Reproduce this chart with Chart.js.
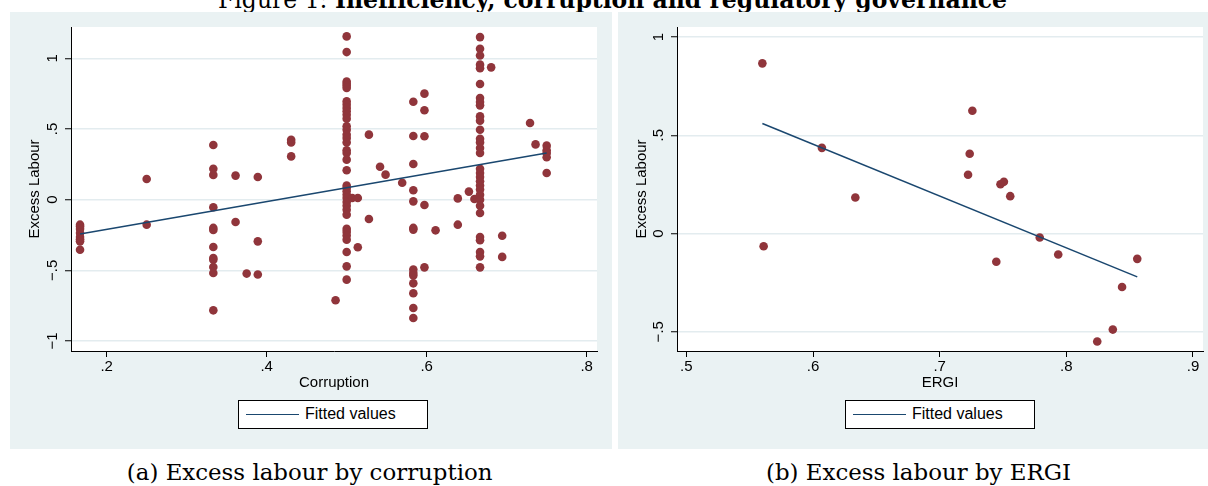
<!DOCTYPE html>
<html>
<head>
<meta charset="utf-8">
<title>Figure 1</title>
<script src="https://cdn.jsdelivr.net/npm/chart.js@4.4.1/dist/chart.umd.min.js"></script>
<style>
body { margin:0; width:1208px; height:486px; background:#fff; position:relative; overflow:hidden; }
.panel { position:absolute; top:12px; height:437px; background:#eaf2f3; }
#pa { left:10px; width:602px; }
#pb { left:618px; width:590px; }
.panel canvas { position:absolute; left:0; top:0; }
.legend { position:absolute; top:388px; width:188px; height:27px; border:1px solid #000; background:#fff; font:16px "Liberation Sans", Arial, sans-serif; color:#000; }
.legend .key { position:absolute; left:7px; top:13px; width:53px; border-top:1.5px solid #1a476f; }
.legend .lt { position:absolute; left:66px; top:4px; white-space:nowrap; }
.tex { position:absolute; left:0; top:0; white-space:nowrap; font-family:"DejaVu Serif", serif; font-size:20px; color:#000; line-height:1.2; }
.bl { display:inline-block; width:0; height:0; }
</style>
</head>
<body>

<div class="tex" id="fig">Figure 1: <b>Inefficiency, corruption and regulatory governance</b><i class="bl"></i></div>

<div class="panel" id="pa">
  <canvas id="chartA" width="602" height="437"></canvas>
  <div class="legend" style="left:228px"><span class="key"></span><span class="lt">Fitted values</span></div>
</div>
<div class="panel" id="pb">
  <canvas id="chartB" width="590" height="437"></canvas>
  <div class="legend" style="left:227px"><span class="key"></span><span class="lt">Fitted values</span></div>
</div>

<div class="tex" id="capA">(a) Excess labour by corruption<i class="bl"></i></div>
<div class="tex" id="capB">(b) Excess labour by ERGI<i class="bl"></i></div>

<script>
// (a) corruption levels and the excess labour values seen at each level
const corruption = [0.1667, 0.25, 0.3333, 0.3611, 0.375, 0.3889, 0.4306, 0.4861, 0.5, 0.5069, 0.5139,
  0.5278, 0.5417, 0.5486, 0.5694, 0.5833, 0.5972, 0.6111, 0.6389, 0.6528, 0.6597, 0.6667, 0.6806,
  0.6944, 0.7292, 0.7361, 0.75];
const excessA = [
  [-0.177, -0.19, -0.207, -0.236, -0.264, -0.28, -0.295, -0.354],
  [0.146, -0.177],
  [0.387, 0.219, 0.175, -0.054, -0.2, -0.215, -0.335, -0.413, -0.425, -0.476, -0.519, -0.783],
  [0.17, -0.158],
  [-0.523],
  [0.16, -0.295, -0.53],
  [0.424, 0.405, 0.306],
  [-0.712],
  [1.155, 1.044, 0.836, 0.82, 0.806, 0.79, 0.695, 0.672, 0.648, 0.625, 0.601, 0.573, 0.519, 0.495, 0.46,
   0.436, 0.405, 0.349, 0.33, 0.283, 0.208, 0.1, 0.083, 0.059, 0.035, 0.012, -0.017, -0.043, -0.071,
   -0.106, -0.207, -0.228, -0.254, -0.283, -0.37, -0.472, -0.566],
  [0.012],
  [0.012, -0.337],
  [0.46, -0.137],
  [0.233],
  [0.177],
  [0.12],
  [0.693, 0.45, 0.252, 0.066, -0.012, -0.2, -0.212, -0.495, -0.519, -0.537, -0.592, -0.662, -0.766, -0.837],
  [0.75, 0.632, 0.448, -0.038, -0.479],
  [-0.217],
  [0.009, -0.177],
  [0.057],
  [0.005],
  [1.15, 1.068, 1.02, 0.955, 0.93, 0.818, 0.719, 0.691, 0.667, 0.589, 0.558, 0.495, 0.431, 0.405, 0.365,
   0.33, 0.219, 0.189, 0.16, 0.13, 0.1, 0.071, 0.035, 0.0, -0.043, -0.094, -0.264, -0.287, -0.37, -0.401, -0.479],
  [0.936],
  [-0.255, -0.405],
  [0.542],
  [0.391],
  [0.382, 0.349, 0.33, 0.3, 0.189]
];
const fitAx = [0.1667, 0.75];
const fitAy = [-0.243, 0.33];

// (b) ERGI
const ergi = [0.56, 0.561, 0.607, 0.6334, 0.7224, 0.7237, 0.7258, 0.7447, 0.748, 0.7507, 0.7557,
  0.779, 0.7936, 0.8244, 0.8367, 0.844, 0.856];
const excessB = [0.866, -0.065, 0.436, 0.183, 0.299, 0.406, 0.625, -0.144, 0.251, 0.263, 0.19,
  -0.02, -0.107, -0.55, -0.489, -0.272, -0.129];
const fitBx = [0.56, 0.856];
const fitBy = [0.56, -0.221];

// tick labels
const xTicksA = [0.2, 0.4, 0.6, 0.8];
const yTicksA = [-1, -0.5, 0, 0.5, 1];
const xTicksB = [0.5, 0.6, 0.7, 0.8, 0.9];
const yTicksB = [-0.5, 0, 0.5, 1];

const maroon = '#90353b';
const navy = '#1a476f';

Chart.defaults.font.family = '"Liberation Sans", Arial, Helvetica, sans-serif';
Chart.defaults.font.size = 15;
Chart.defaults.color = '#000';

// stata style numbers: .5, −.5
function stataLabel(v) {
  if (v === 0) return '0';
  var s = String(Math.abs(v)).replace(/^0\./, '.');
  return (v < 0 ? '\u2212' : '') + s;
}

// white plot region
const plotBg = {
  id: 'plotBg',
  beforeDraw(chart) {
    const a = chart.chartArea, ctx = chart.ctx;
    ctx.save();
    ctx.fillStyle = '#fff';
    ctx.fillRect(a.left, a.top, a.right - a.left, a.bottom - a.top);
    ctx.restore();
  }
};

function drawPanel(id, pts, fx, fy, xr, yr, xt, yt, xTitle, pad, yWidth, yTitlePad) {
  return new Chart(document.getElementById(id), {
    type: 'scatter',
    data: {
      datasets: [
        { type: 'line', label: 'Fitted values', data: fx.map((x, i) => ({ x: x, y: fy[i] })),
          borderColor: navy, borderWidth: 1.5, pointRadius: 0, fill: false, order: 0 },
        { label: 'Excess Labour', data: pts, backgroundColor: maroon, borderWidth: 0, pointRadius: 4.3, order: 1 }
      ]
    },
    options: {
      responsive: false,
      animation: false,
      devicePixelRatio: 1,
      events: [],
      layout: { padding: pad },
      plugins: { legend: { display: false }, tooltip: { enabled: false } },
      scales: {
        x: {
          type: 'linear', min: xr[0], max: xr[1],
          afterBuildTicks: s => { s.ticks = xt.map(v => ({ value: v })); },
          afterFit: s => { s.height = 42; },
          grid: { drawOnChartArea: false, tickLength: 6, tickColor: '#000', tickWidth: 1 },
          border: { color: '#000', width: 1 },
          ticks: { callback: stataLabel, padding: 1, maxRotation: 0, autoSkip: false },
          title: { display: true, text: xTitle, padding: { top: 0, bottom: 1 } }
        },
        y: {
          type: 'linear', min: yr[0], max: yr[1],
          afterBuildTicks: s => { s.ticks = yt.map(v => ({ value: v })); },
          afterFit: s => { s.width = yWidth; },
          grid: { color: '#e3ecef', lineWidth: 1.5, tickLength: 6, tickColor: '#000', tickWidth: 1 },
          border: { color: '#000', width: 1 },
          ticks: { callback: stataLabel, minRotation: 90, maxRotation: 90, crossAlign: 'center', padding: 2, autoSkip: false },
          title: { display: true, text: 'Excess Labour', padding: { top: yTitlePad, bottom: 0 } }
        }
      }
    },
    plugins: [plotBg]
  });
}

var ptsA = [];
corruption.forEach((x, i) => excessA[i].forEach(y => ptsA.push({ x: x, y: y })));
var ptsB = ergi.map((x, i) => ({ x: x, y: excessB[i] }));

drawPanel('chartA', ptsA, fitAx, fitAy, [0.1554, 0.8129], [-1.0707, 1.2214], xTicksA, yTicksA,
  'Corruption', { left: 0, top: 15, right: 15, bottom: 56 }, 61, 16);
drawPanel('chartB', ptsB, fitBx, fitBy, [0.4926, 0.9079], [-0.598, 1.051], xTicksB, yTicksB,
  'ERGI', { left: 0, top: 15, right: 5, bottom: 56 }, 59, 15);

// latex-like texts: fit width, then put baseline where the picture has it
function placeText(id, cx, baseline, width, size) {
  var el = document.getElementById(id);
  if (size) el.style.fontSize = size + 'px';
  if (width) {
    var w = el.getBoundingClientRect().width;
    var fs = parseFloat(getComputedStyle(el).fontSize);
    el.style.fontSize = (fs * width / w) + 'px';
  }
  var r = el.getBoundingClientRect();
  el.style.left = (cx - r.width / 2) + 'px';
  var b = el.querySelector('.bl').getBoundingClientRect().bottom - r.top;
  el.style.top = (baseline - b) + 'px';
  return parseFloat(el.style.fontSize);
}
var capSize = placeText('capA', 309.7, 480, 366);
placeText('capB', 918.5, 480, 0, capSize);
placeText('fig', 612.5, 7.5, 789);
</script>
</body>
</html>
